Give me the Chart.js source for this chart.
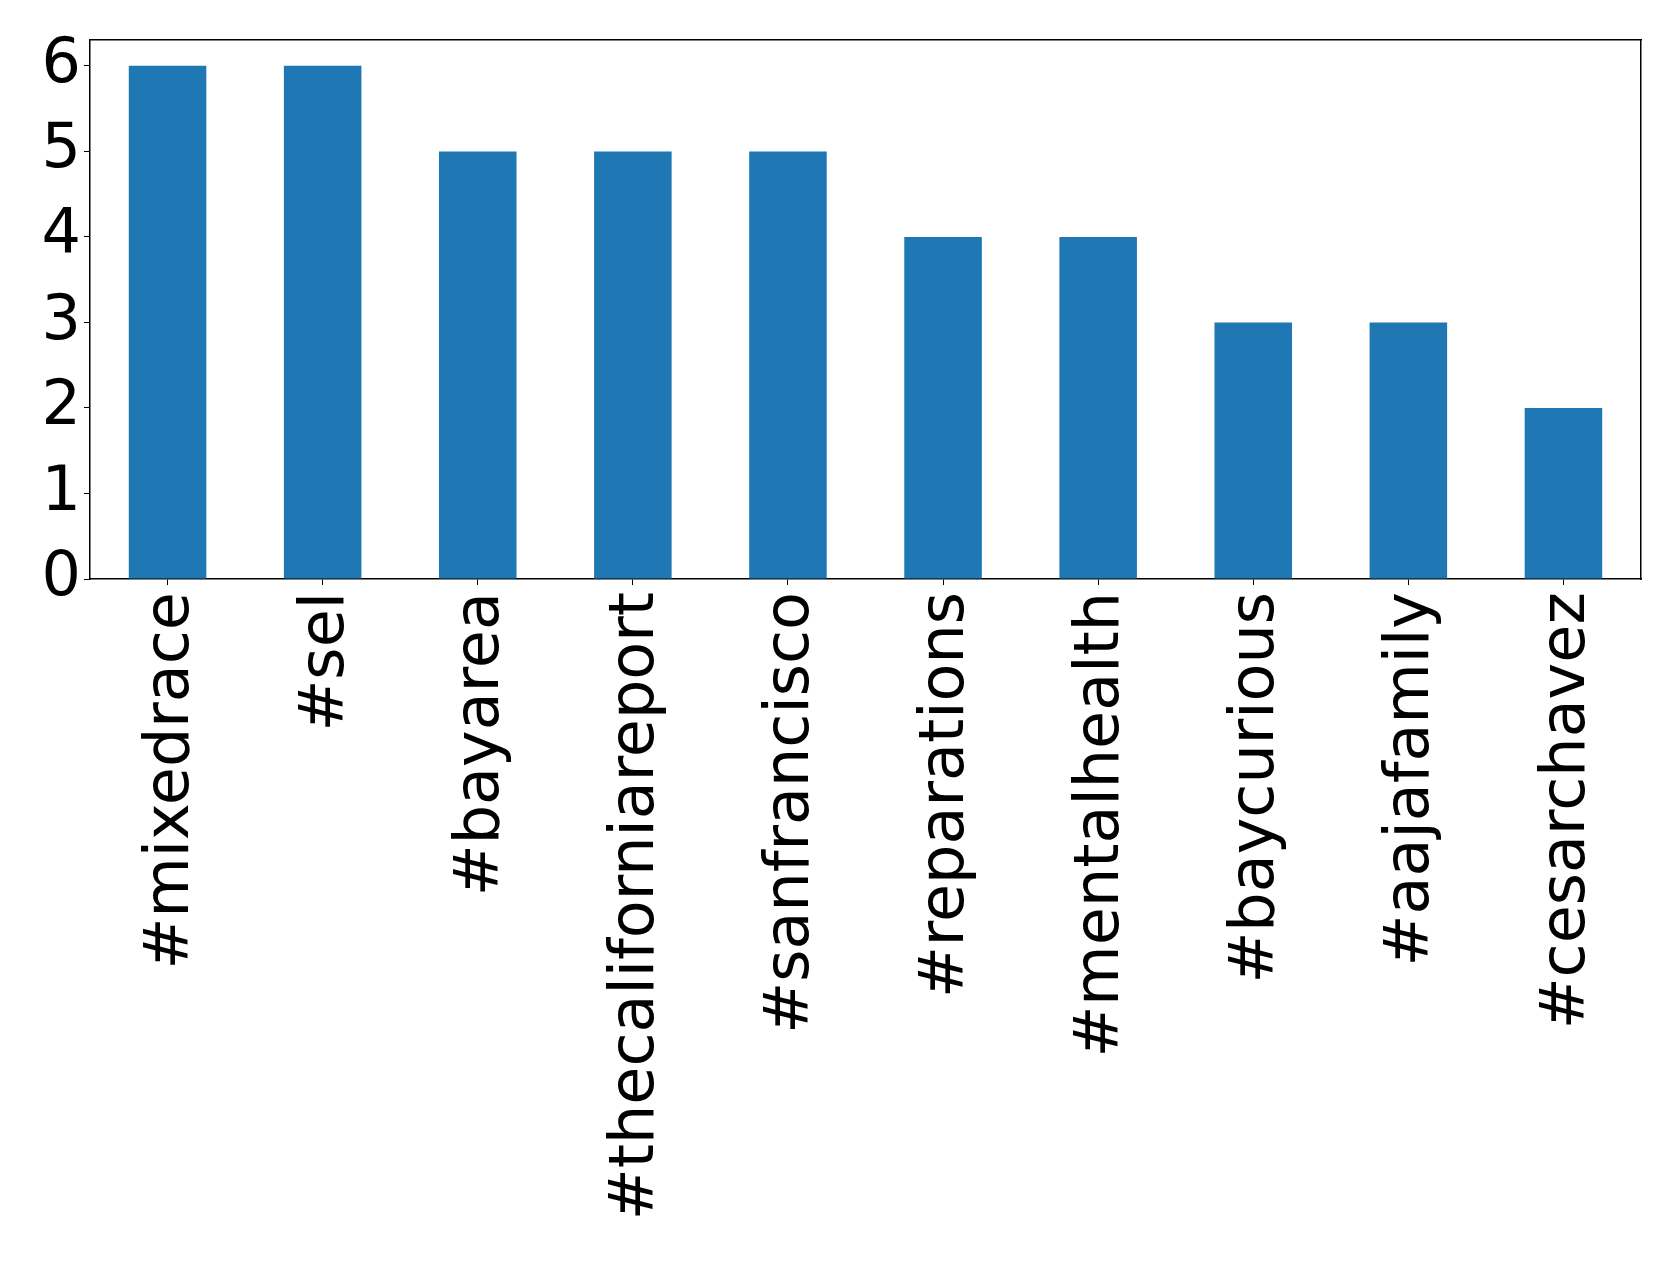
<!DOCTYPE html>
<html>
<head>
<meta charset="utf-8">
<script src="https://cdn.jsdelivr.net/npm/chart.js@4/dist/chart.umd.min.js"></script>
<style>
  html, body { margin: 0; padding: 0; background: #fff; }
  #wrap { width: 1679px; height: 1262px; }
</style>
</head>
<body>
<div id="wrap"><canvas id="chart" width="1679" height="1262"></canvas></div>
<script>
const hashtags = ['#mixedrace', '#sel', '#bayarea', '#thecaliforniareport', '#sanfrancisco',
  '#reparations', '#mentalhealth', '#baycurious', '#aajafamily', '#cesarchavez'];
const counts = [6, 6, 5, 5, 5, 4, 4, 3, 3, 2];
const yTicks = [0, 1, 2, 3, 4, 5, 6];

const font = { family: 'DejaVu Sans', size: 62 };

new Chart(document.getElementById('chart'), {
  type: 'bar',
  data: {
    labels: hashtags,
    datasets: [{ data: counts, backgroundColor: '#1f77b4', borderWidth: 0,
      categoryPercentage: 1, barPercentage: 0.5 }],
  },
  options: {
    responsive: false,
    animation: false,
    layout: { padding: { top: 40, right: 38, left: 0, bottom: 0 } },
    plugins: { legend: { display: false }, tooltip: { enabled: false } },
    scales: {
      x: {
        offset: true,
        grid: { display: true, drawOnChartArea: false, drawTicks: true, tickLength: 6, color: '#000', offset: false },
        border: { display: true, color: '#000', width: 1.5 },
        ticks: { color: '#000', font, maxRotation: 90, minRotation: 90, padding: 7, labelOffset: 4, autoSkip: false },
        afterFit: (s) => { s.height = 683; },
      },
      y: {
        min: 0, max: 6.3,
        grid: { display: true, drawOnChartArea: false, drawTicks: true, tickLength: 6, color: '#000' },
        border: { display: true, color: '#000', width: 1.5 },
        ticks: { color: '#000', font, padding: 3, stepSize: 1 },
        afterBuildTicks: (s) => { s.ticks = yTicks.map((v) => ({ value: v })); },
        afterFit: (s) => { s.width = 90; },
      },
      xTop: {
        position: 'top', type: 'category', labels: hashtags,
        grid: { display: false }, ticks: { display: false },
        border: { display: true, color: '#000', width: 1.5 },
        afterFit: (s) => { s.height = 0; },
      },
      yRight: {
        position: 'right', min: 0, max: 6.3,
        grid: { display: false }, ticks: { display: false },
        border: { display: true, color: '#000', width: 1.5 },
        afterFit: (s) => { s.width = 0; },
      },
    },
  },
});
</script>
</body>
</html>
